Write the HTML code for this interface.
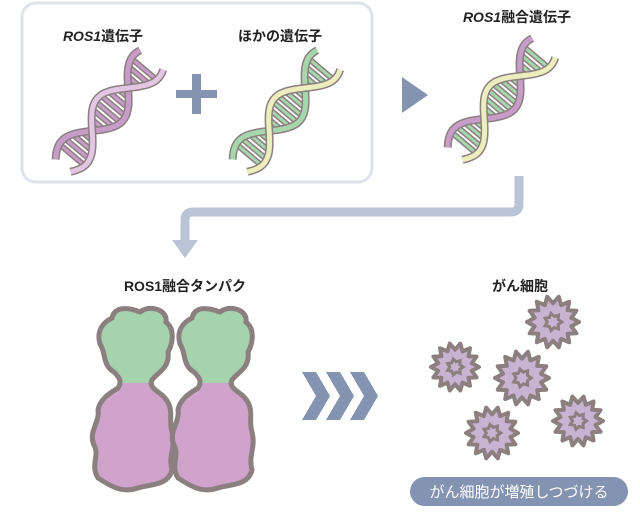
<!DOCTYPE html>
<html><head><meta charset="utf-8"><style>
body{margin:0;width:640px;height:510px;background:#fff;overflow:hidden}
svg text{font-family:"Liberation Sans","Noto Sans CJK JP",sans-serif;font-weight:bold;fill:#222}
</style></head><body>
<svg id="s" width="640" height="510" viewBox="0 0 640 510" xmlns="http://www.w3.org/2000/svg">
<defs>
<path id="pr" d="M112,318 C115,305 130,308 140,312 C150,304 168,310 166,322 C176,330 172,345 168,352 C170,368 158,372 152,380 C148,388 160,392 165,398 C175,410 168,420 172,432 C176,448 168,455 172,470 C168,486 150,484 138,488 C120,494 108,484 98,478 C90,465 100,455 94,445 C88,432 100,422 98,410 C100,398 112,392 118,388 C122,382 120,378 114,372 C102,365 106,352 100,344 C96,330 104,322 112,318 Z"/>
<clipPath id="cp"><use href="#pr"/></clipPath>
</defs>
<rect x="22" y="3" width="350" height="179" rx="14" fill="#fff" stroke="#dfe3ea" stroke-width="3"/>
<text x="103" y="41" font-size="14" text-anchor="middle"><tspan font-style="italic">ROS1</tspan>遺伝子</text>
<text x="280" y="41" font-size="14" text-anchor="middle">ほかの遺伝子</text>
<text x="517" y="22" font-size="14" text-anchor="middle"><tspan font-style="italic">ROS1</tspan>融合遺伝子</text>
<rect x="176" y="90" width="41" height="8" fill="#8493b0"/><rect x="192" y="74" width="9" height="40" fill="#8493b0"/>
<polygon points="402,77 428,95 402,113" fill="#8493b0"/>
<path d="M519,176 V204 Q519,212 511,212 H193 Q185,212 185,220 V242" fill="none" stroke="#b9c4d6" stroke-width="9"/>
<polygon points="172,240 198,240 185,258" fill="#b9c4d6"/>
<text x="185" y="291" font-size="14" text-anchor="middle">ROS1融合タンパク</text>
<text x="520" y="291" font-size="14" text-anchor="middle">がん細胞</text>
<g id="prot">
<use href="#pr" fill="#cfa3cb"/>
<rect x="80" y="290" width="110" height="93" fill="#a4d3ad" clip-path="url(#cp)"/>
<use href="#pr" fill="none" stroke="#8c7f80" stroke-width="5"/>
</g>
<use href="#prot" transform="translate(80,0)"/>
<g fill="#8493b0">
<polygon points="302,372 316,372 330,396 316,420 302,420 316,396"/>
<polygon points="326,372 340,372 354,396 340,420 326,420 340,396"/>
<polygon points="350,372 364,372 378,396 364,420 350,420 364,396"/>
</g>
<rect x="410" y="477" width="218" height="29" rx="14.5" fill="#8493b2"/>
<text x="519" y="497" font-size="15" text-anchor="middle" style="fill:#fff;font-weight:normal">がん細胞が増殖しつづける</text>
<g id="g"></g>
</svg>
<script>
var g=document.getElementById('g'),h='';
function dna(cx,cy,c1,c2,rung){
 var L=140,A=17,ang=-50*Math.PI/180,ca=Math.cos(ang),sa=Math.sin(ang);
 function P(t,y){var x=t-L/2;return (cx+x*ca-y*sa).toFixed(1)+','+(cy+x*sa+y*ca).toFixed(1);}
 var s1='',s2='',r='';
 for(var t=0;t<=L;t+=3){var y=A*Math.sin(t/L*2*Math.PI*1.25+0.6);s1+=(t?'L':'M')+P(t,y);s2+=(t?'L':'M')+P(t,-y);}
 for(var t=14;t<L-10;t+=8){var y=A*Math.sin(t/L*2*Math.PI*1.25+0.6);if(Math.abs(y)>4)r+='M'+P(t,y*0.9)+'L'+P(t,-y*0.9);}
 h+='<path d="'+r+'" stroke="#8c7f80" stroke-width="6" fill="none"/><path d="'+r+'" stroke="'+rung+'" stroke-width="3" fill="none"/>';
 h+='<path d="'+s2+'" stroke="#8c7f80" stroke-width="8" fill="none"/><path d="'+s2+'" stroke="'+c2+'" stroke-width="5" fill="none"/>';
 h+='<path d="'+s1+'" stroke="#8c7f80" stroke-width="8" fill="none"/><path d="'+s1+'" stroke="'+c1+'" stroke-width="5" fill="none"/>';
}
dna(108,112,'#e2c6e4','#c89cc8','#c89cc8');
dna(285,112,'#ecefbd','#a6d6ac','#a6d6ac');
dna(500,100,'#ecefbd','#c89cc8','#a6d6ac');
function cell(cx,cy,R){
 var p='',n=14;for(var i=0;i<2*n;i++){var a=i*Math.PI/n,r=i%2?R*0.72:R;p+=(cx+r*Math.cos(a)).toFixed(1)+','+(cy+r*Math.sin(a)).toFixed(1)+' ';}
 var q='',m=7;for(var i=0;i<2*m;i++){var a=i*Math.PI/m,r=i%2?R*0.22:R*0.34;q+=(cx+r*Math.cos(a)).toFixed(1)+','+(cy+r*Math.sin(a)).toFixed(1)+' ';}
 h+='<polygon points="'+p+'" fill="#c9b3d3" stroke="#8c7f80" stroke-width="4" stroke-linejoin="round"/><polygon points="'+q+'" fill="#c9b3d3" stroke="#8c7f80" stroke-width="3"/>';
}
cell(553,322,26);cell(455,367,24);cell(522,378,27);cell(492,433,26);cell(578,421,25);
g.innerHTML=h;
</script>
</body></html>
